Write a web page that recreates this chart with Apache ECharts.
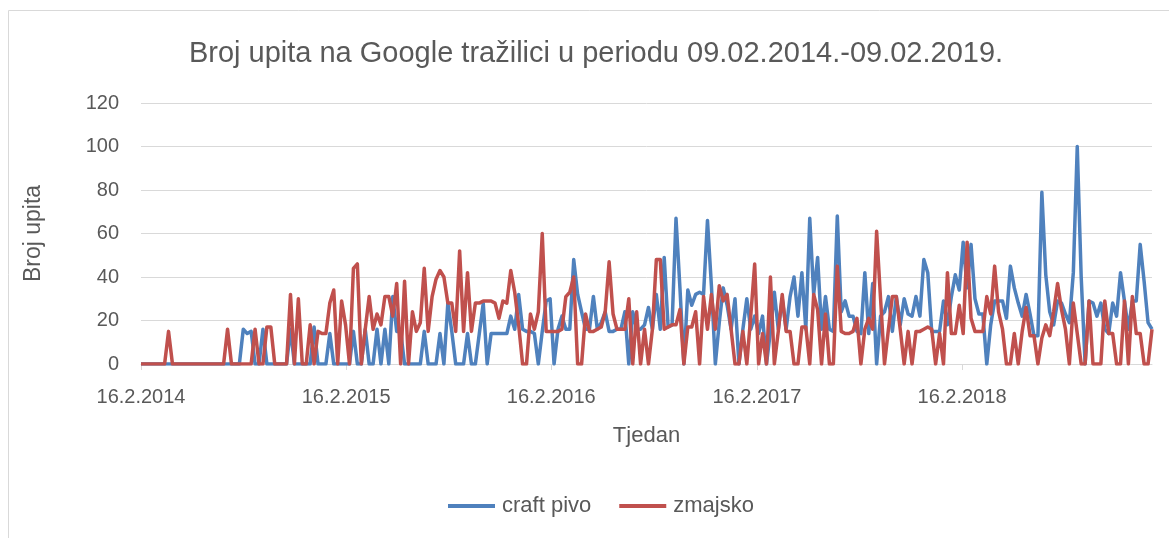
<!DOCTYPE html>
<html>
<head>
<meta charset="utf-8">
<script src="https://cdn.jsdelivr.net/npm/echarts@6/dist/echarts.min.js"></script>
<style>
  html, body { margin: 0; padding: 0; background: #fff; }
  #chart { width: 1169px; height: 538px; }
</style>
</head>
<body>
<div id="chart"></div>
<script>
// Tjedni podaci (Google Trends), prvi tjedan 16.2.2014.
const weekCount = 258;
const weeks = [];
for (let i = 0; i < weekCount; i++) {
  weeks.push(new Date(2014, 1, 16 + 7 * i).getTime());
}

// oznake na osi x
const tickDates = [2014, 2015, 2016, 2017, 2018].map(y => new Date(y, 1, 16).getTime());

const craftPivo = [
  0, 0, 0, 0, 0, 0, 0, 0, 0, 0,
  0, 0, 0, 0, 0, 0, 0, 0, 0, 0,
  0, 0, 0, 0, 0, 0, 16, 14, 15, 0,
  0, 16, 0, 0, 0, 0, 0, 0, 16, 0,
  0, 0, 0, 0, 17, 0, 0, 0, 14, 0,
  0, 0, 0, 0, 15, 0, 0, 16, 0, 0,
  16, 0, 16, 0, 31, 15, 15, 0, 0, 0,
  0, 0, 15, 0, 0, 0, 14, 0, 28, 15,
  0, 0, 0, 14, 0, 0, 14, 28, 0, 14,
  14, 14, 14, 14, 22, 16, 32, 16, 15, 15,
  14, 0, 15, 29, 30, 0, 16, 22, 16, 16,
  48, 32, 24, 16, 16, 31, 16, 19, 24, 15,
  15, 16, 16, 24, 0, 24, 16, 16, 18, 26,
  16, 32, 16, 49, 17, 18, 67, 35, 0, 34,
  27, 32, 33, 32, 66, 36, 0, 19, 35, 27,
  16, 30, 0, 16, 30, 16, 22, 14, 22, 0,
  15, 33, 16, 30, 16, 31, 40, 22, 42, 16,
  67, 32, 49, 16, 31, 16, 15, 68, 24, 29,
  22, 22, 15, 14, 42, 14, 37, 0, 22, 24,
  31, 15, 31, 18, 30, 23, 22, 31, 22, 48,
  42, 15, 15, 15, 29, 18, 31, 41, 34, 56,
  35, 55, 30, 23, 23, 0, 18, 29, 29, 29,
  21, 45, 35, 28, 22, 32, 23, 13, 13, 79,
  41, 24, 18, 29, 28, 23, 19, 42, 100, 40,
  0, 29, 28, 22, 28, 16, 14, 28, 22, 42,
  29, 16, 29, 29, 55, 38, 19, 16
];

const zmajsko = [
  0, 0, 0, 0, 0, 0, 0, 15, 0, 0,
  0, 0, 0, 0, 0, 0, 0, 0, 0, 0,
  0, 0, 16, 0, 0, 0, 0, 0, 0, 16,
  0, 0, 17, 17, 0, 0, 0, 0, 32, 0,
  30, 0, 0, 18, 0, 15, 14, 14, 28, 34,
  0, 29, 18, 0, 44, 46, 0, 16, 31, 16,
  23, 18, 31, 31, 22, 37, 0, 38, 0, 24,
  15, 19, 44, 15, 31, 39, 43, 40, 28, 28,
  15, 52, 15, 42, 15, 28, 28, 29, 29, 29,
  28, 21, 29, 28, 43, 33, 18, 0, 0, 23,
  16, 24, 60, 15, 15, 15, 15, 16, 31, 33,
  40, 0, 0, 23, 15, 15, 16, 17, 24, 47,
  23, 16, 16, 16, 30, 0, 24, 0, 16, 0,
  16, 48, 48, 16, 17, 18, 18, 25, 0, 17,
  17, 24, 0, 31, 16, 32, 16, 36, 29, 32,
  16, 0, 0, 15, 0, 22, 46, 0, 14, 0,
  40, 0, 15, 32, 15, 15, 0, 0, 17, 17,
  0, 32, 25, 0, 23, 0, 0, 45, 15, 14,
  14, 15, 21, 0, 16, 21, 16, 61, 30, 0,
  16, 31, 31, 16, 0, 15, 0, 15, 15, 16,
  17, 16, 0, 14, 0, 42, 14, 14, 27, 14,
  56, 21, 15, 15, 15, 31, 23, 45, 24, 16,
  0, 0, 14, 0, 15, 26, 13, 13, 0, 12,
  18, 13, 24, 37, 25, 16, 0, 28, 14, 0,
  0, 29, 0, 0, 0, 29, 14, 14, 0, 0,
  29, 0, 31, 14, 14, 0, 0, 16
];

function fmtDate(v) {
  const d = new Date(v);
  return d.getDate() + '.' + (d.getMonth() + 1) + '.' + d.getFullYear();
}

const chart = echarts.init(document.getElementById('chart'));
const textColor = '#595959';
const font = 'Liberation Sans, Arial, sans-serif';

chart.setOption({
  animation: false,
  textStyle: { fontFamily: font, color: textColor },
  title: {
    text: 'Broj upita na Google tražilici u periodu 09.02.2014.-09.02.2019.',
    left: 591,
    textAlign: 'center',
    top: 34,
    textStyle: { fontFamily: font, fontSize: 29, fontWeight: 'normal', color: textColor }
  },
  graphic: [{
    type: 'rect',
    shape: { x: 8.5, y: 10.5, width: 1180, height: 560 },
    style: { fill: 'none', stroke: '#d9d9d9', lineWidth: 1 },
    silent: true
  }],
  legend: {
    left: 443,
    top: 490,
    icon: 'rect',
    itemWidth: 47,
    itemHeight: 4,
    itemGap: 28,
    textStyle: { fontFamily: font, fontSize: 22, color: textColor, padding: [0, 0, 0, 2] },
    data: ['craft pivo', 'zmajsko']
  },
  grid: { left: 141, top: 103, width: 1011, height: 261 },
  xAxis: {
    // datumi kao brojevi (ms), oznake svake godine na 16.2.
    type: 'value',
    min: weeks[0],
    max: weeks[weeks.length - 1],
    name: 'Tjedan',
    nameLocation: 'middle',
    nameGap: 61,
    nameTextStyle: { fontFamily: font, fontSize: 22, color: textColor },
    axisLine: { show: true, lineStyle: { color: '#d9d9d9', width: 1 } },
    axisTick: { show: true, customValues: tickDates, length: 6, lineStyle: { color: '#d9d9d9' } },
    axisLabel: {
      customValues: tickDates,
      formatter: fmtDate,
      fontFamily: font,
      fontSize: 20,
      color: textColor,
      margin: 23,
      showMinLabel: true,
      showMaxLabel: true
    },
    splitLine: { show: false }
  },
  yAxis: {
    type: 'value',
    min: 0,
    max: 120,
    interval: 20,
    name: 'Broj upita',
    nameLocation: 'middle',
    nameRotate: 90,
    nameGap: 96,
    nameTextStyle: { fontFamily: font, fontSize: 23, color: textColor },
    axisLine: { show: false },
    axisTick: { show: false },
    axisLabel: { fontFamily: font, fontSize: 20, color: textColor, margin: 22 },
    splitLine: { lineStyle: { color: '#d9d9d9', width: 1 } }
  },
  series: [
    {
      name: 'craft pivo',
      type: 'line',
      symbol: 'none',
      data: weeks.map((t, i) => [t, craftPivo[i]]),
      lineStyle: { color: '#4f81bd', width: 3.5, join: 'round' },
      itemStyle: { color: '#4f81bd' }
    },
    {
      name: 'zmajsko',
      type: 'line',
      symbol: 'none',
      data: weeks.map((t, i) => [t, zmajsko[i]]),
      lineStyle: { color: '#c0504d', width: 3.5, join: 'round' },
      itemStyle: { color: '#c0504d' }
    }
  ]
});
</script>
</body>
</html>
